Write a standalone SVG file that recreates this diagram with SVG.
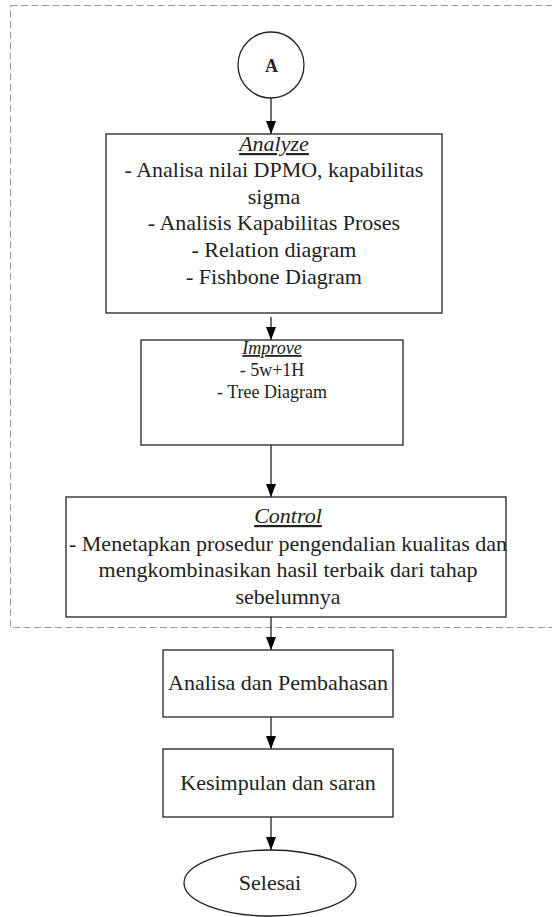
<svg xmlns="http://www.w3.org/2000/svg" width="552" height="917" viewBox="0 0 552 917">
<style>
.box{fill:#fff;stroke:#222;stroke-width:1.3}
.t{font-family:"Liberation Serif","Times New Roman",serif;font-size:22px;fill:#222;text-anchor:middle}
.s{font-size:18px}
.h{font-style:italic;text-decoration:underline}
.c{stroke:#222;stroke-width:1.3;fill:none}
</style>
<defs>
<marker id="arr" markerUnits="userSpaceOnUse" markerWidth="12" markerHeight="14" refX="5" refY="13" orient="auto-start-reverse" viewBox="0 0 10 14">
<path d="M0,0 L10,0 L5,13 Z" fill="#000" transform="rotate(0)"/>
</marker>
</defs>
<rect id="group-frame" x="10.5" y="5.5" width="560" height="622" fill="none" stroke="#999" stroke-width="1" stroke-dasharray="7,3.5"/>
<g id="connectors">
<line class="c" x1="271" y1="98" x2="271" y2="134"/>
<path d="M266,121 L276,121 L271,134 Z" fill="#000"/>
<line class="c" x1="271" y1="317" x2="271" y2="340"/>
<path d="M266,327 L276,327 L271,340 Z" fill="#000"/>
<line class="c" x1="271" y1="445" x2="271" y2="497"/>
<path d="M266,484 L276,484 L271,497 Z" fill="#000"/>
<line class="c" x1="271" y1="617" x2="271" y2="650"/>
<path d="M266,637 L276,637 L271,650 Z" fill="#000"/>
<line class="c" x1="271" y1="717" x2="271" y2="749"/>
<path d="M266,736 L276,736 L271,749 Z" fill="#000"/>
<line class="c" x1="271" y1="817" x2="271" y2="850"/>
<path d="M266,837 L276,837 L271,850 Z" fill="#000"/>
</g>
<g id="node-a">
<circle cx="271" cy="65" r="33" class="box"/>
<text class="t s" x="271.5" y="72" font-weight="bold">A</text>
</g>
<g id="node-analyze">
<rect class="box" x="106" y="134" width="336" height="179"/>
<text class="t h" x="274" y="151">Analyze</text>
<text class="t" x="274" y="177">- Analisa nilai DPMO, kapabilitas</text>
<text class="t" x="274" y="204">sigma</text>
<text class="t" x="274" y="230">- Analisis Kapabilitas Proses</text>
<text class="t" x="274" y="257">- Relation diagram</text>
<text class="t" x="274" y="284">- Fishbone Diagram</text>
</g>
<g id="node-improve">
<rect class="box" x="141" y="340" width="262" height="105"/>
<text class="t s h" x="272" y="354">Improve</text>
<text class="t s" x="272" y="376">- 5w+1H</text>
<text class="t s" x="272" y="398">- Tree Diagram</text>
</g>
<g id="node-control">
<rect class="box" x="66" y="497" width="440" height="120"/>
<text class="t h" x="288" y="523">Control</text>
<text class="t" x="288" y="551">- Menetapkan prosedur pengendalian kualitas dan</text>
<text class="t" x="288" y="577">mengkombinasikan hasil terbaik dari tahap</text>
<text class="t" x="288" y="604">sebelumnya</text>
</g>
<g id="node-analisa">
<rect class="box" x="163" y="650" width="230" height="67"/>
<text class="t" x="278" y="690">Analisa dan Pembahasan</text>
</g>
<g id="node-kesimpulan">
<rect class="box" x="163" y="749" width="230" height="68"/>
<text class="t" x="278" y="790">Kesimpulan dan saran</text>
</g>
<g id="node-selesai">
<ellipse class="box" cx="270" cy="883" rx="86" ry="33"/>
<text class="t" x="270" y="890">Selesai</text>
</g>
</svg>
